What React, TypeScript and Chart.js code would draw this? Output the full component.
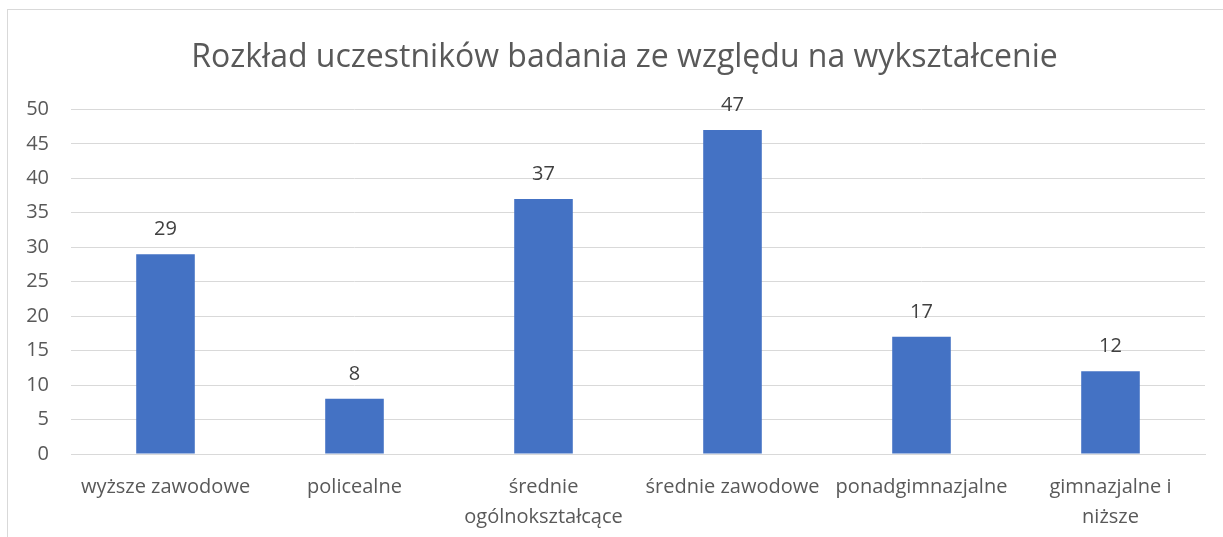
import React, { useEffect, useRef } from "react";
import { Chart, registerables } from "chart.js";

Chart.register(...registerables);

const categories: (string | string[])[] = [
  "wyższe zawodowe",
  "policealne",
  ["średnie", "ogólnokształcące"],
  "średnie zawodowe",
  "ponadgimnazjalne",
  ["gimnazjalne i", "niższe"],
];
const values: number[] = [29, 8, 37, 47, 17, 12];
const titleText = "Rozkład uczestników badania ze względu na wykształcenie";
const FONT = "'Open Sans', sans-serif";

const valueLabels = {
  id: "valueLabels",
  afterDatasetsDraw(chart: any) {
    const ctx = chart.ctx;
    const meta = chart.getDatasetMeta(0);
    ctx.save();
    ctx.fillStyle = "#404040";
    ctx.font = `20px ${FONT}`;
    ctx.textAlign = "center";
    ctx.textBaseline = "middle";
    meta.data.forEach((bar: any, i: number) => {
      ctx.fillText(String(values[i]), bar.x, bar.y - 25);
    });
    ctx.restore();
  },
};

export default function App() {
  const ref = useRef<HTMLCanvasElement | null>(null);
  useEffect(() => {
    if (!ref.current) return;
    const chart = new Chart(ref.current, {
      type: "bar",
      data: {
        labels: categories,
        datasets: [
          {
            data: values,
            backgroundColor: "#4472C4",
            barPercentage: 0.31,
            categoryPercentage: 1,
          },
        ],
      },
      options: {
        animation: false,
        responsive: false,
        maintainAspectRatio: false,
        layout: { padding: { left: 8, right: 9, top: 0, bottom: 0 } },
        plugins: {
          legend: { display: false },
          tooltip: { enabled: false },
          title: {
            display: true,
            text: titleText,
            color: "#595959",
            font: { family: FONT, size: 32, weight: "normal", lineHeight: 1.2 },
            padding: { top: 29, bottom: 32 },
          },
        },
        scales: {
          x: {
            grid: { display: false, drawTicks: false },
            border: { display: true, color: "#d9d9d9", width: 1 },
            ticks: {
              color: "#595959",
              font: { family: FONT, size: 20, lineHeight: 1.5 },
              autoSkip: false,
              maxRotation: 0,
              minRotation: 0,
              padding: 18,
            },
            afterFit: (s: any) => {
              s.height = 83;
            },
          },
          y: {
            min: 0,
            max: 50,
            ticks: {
              stepSize: 5,
              color: "#595959",
              font: { family: FONT, size: 20 },
              padding: 22,
            },
            grid: { color: "#d9d9d9", drawTicks: false, lineWidth: 1 },
            border: { display: false },
            afterFit: (s: any) => {
              s.width = 55;
            },
          },
          yRight: {
            position: "right",
            min: 0,
            max: 50,
            ticks: { display: false },
            grid: { display: false, drawTicks: false },
            border: { display: false },
            afterFit: (s: any) => {
              s.width = 28;
            },
          },
        },
      },
      plugins: [valueLabels],
    });
    return () => chart.destroy();
  }, []);

  return (
    <div
      style={{
        position: "fixed",
        left: 0,
        top: 0,
        width: "100vw",
        height: "100vh",
        overflow: "hidden",
        background: "#fff",
      }}
    >
      <div
        style={{
          position: "absolute",
          left: 7,
          top: 9,
          width: 1234,
          height: 540,
          border: "1px solid #d9d9d9",
        }}
      >
        <canvas ref={ref} width={1234} height={527} style={{ display: "block" }} />
      </div>
    </div>
  );
}
